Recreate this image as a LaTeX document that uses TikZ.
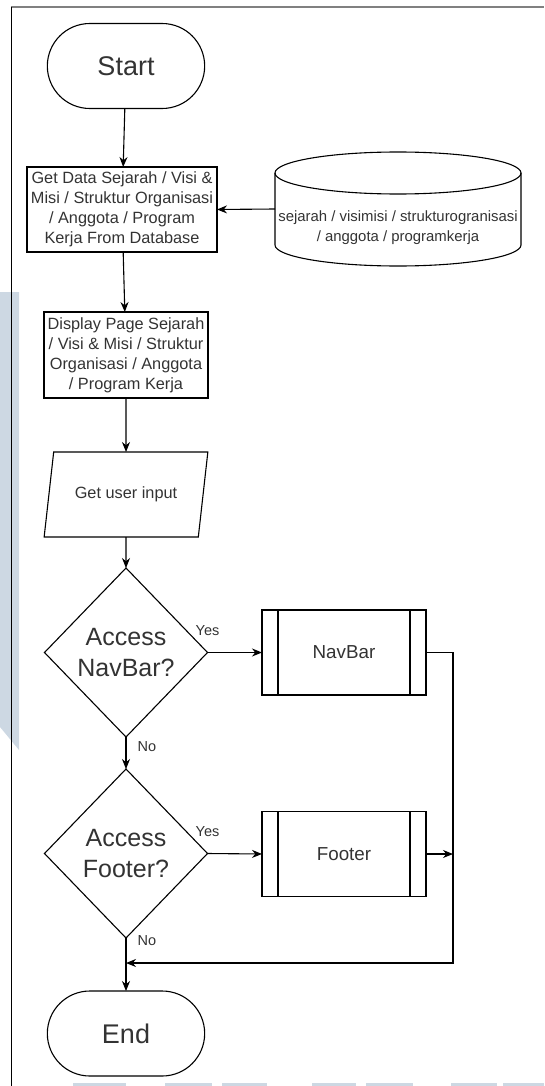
\documentclass[tikz,border=0pt]{standalone}
\usepackage{fontspec}
\setmainfont{Liberation Sans}
\usetikzlibrary{shapes.geometric,shapes.misc,arrows.meta}

\definecolor{inkgray}{HTML}{333333}
\definecolor{markblue}{HTML}{CDD8E3}

\begin{document}
\begin{tikzpicture}[x=1pt, y=1pt, line width=1.1pt,
  every node/.style={outer sep=0pt, text=inkgray},
  flow/.style={-{Stealth[length=10pt, width=8pt]}},
  terminal/.style={draw, rounded rectangle, minimum width=164pt, minimum height=85pt, font=\fontsize{27}{32}\selectfont},
  process/.style={draw, rectangle, inner sep=2pt, align=center, font=\fontsize{16.3}{20}\selectfont},
  inputbox/.style={draw, trapezium, trapezium left angle=71.8, trapezium right angle=108.2, trapezium stretches=true, minimum width=164pt, minimum height=85pt, font=\fontsize{16.3}{20}\selectfont},
  decision/.style={draw, diamond, inner sep=0pt, minimum width=163pt, minimum height=169pt, align=center, font=\fontsize{25}{31}\selectfont},
  subproc/.style={draw, rectangle, minimum width=164pt, minimum height=85pt, font=\fontsize{18.8}{22}\selectfont,
    path picture={\draw ([xshift=16pt]path picture bounding box.north west) -- ([xshift=16pt]path picture bounding box.south west);
                  \draw ([xshift=-16pt]path picture bounding box.north east) -- ([xshift=-16pt]path picture bounding box.south east);}},
  dbshape/.style={rectangle, minimum width=246pt, minimum height=114pt},
  lbl/.style={inner sep=0pt, font=\fontsize{14.5}{17}\selectfont}]

\useasboundingbox (0,0) rectangle (544,-1086);

\fill[markblue] (0,-292) -- (19,-292) -- (19,-750) -- (0,-727) -- cycle;
\foreach \a/\b in {73/126, 165/212, 222/267, 312/356, 366/413, 451/497, 503/544}
  \fill[markblue] (\a,-1083) rectangle (\b,-1086);

\draw[gray, line width=2pt] (11,-7.5) -- (544,-7.5);
\draw[black, line width=0.8pt] (11,-7) -- (11,-1086);

\node[terminal] (start) at (126,-66) {Start};
\node[process, minimum width=190pt, minimum height=85pt] (getdata) at (122,-209.5) {Get Data Sejarah / Visi \&\\Misi / Struktur Organisasi\\/ Anggota / Program\\Kerja From Database};
\node[dbshape] (db) at (398,-209) {};
\node[align=center, font=\fontsize{14.9}{20}\selectfont] (dbname) at (398,-228) {sejarah / visimisi / strukturogranisasi\\/ anggota / programkerja};
\draw (398,-173) ellipse [x radius=123, y radius=21];
\draw (275,-173) -- (275,-245) arc [start angle=180, end angle=360, x radius=123, y radius=21] -- (521,-173);
\node[process, minimum width=164pt, minimum height=86pt] (display) at (126,-355) {Display Page Sejarah\\/ Visi \& Misi / Struktur\\Organisasi / Anggota\\/ Program Kerja};
\node[inputbox] (input) at (126,-494.5) {Get user input};
\node[decision] (navq) at (126,-652.5) {Access\\NavBar?};
\node[subproc] (navbar) at (344,-652.5) {NavBar};
\node[decision] (footq) at (126,-853.5) {Access\\Footer?};
\node[subproc] (footer) at (344,-854) {Footer};
\node[terminal] (end) at (126,-1033.5) {End};

\coordinate (rail) at (453,-963);
\coordinate (merge) at (126,-963);

\draw[flow] (start) -- (getdata);
\draw[flow] (db.west) -- (getdata.east);
\draw[flow] (getdata) -- (display);
\draw[flow] (display) -- (input);
\draw[flow] (input) -- (navq);
\draw[flow] (navq.east) -- (navbar.west) node[lbl, at start, yshift=22pt] {Yes};
\draw[flow] (navq.south) -- (footq.north) node[lbl, at start, xshift=21pt, yshift=-10pt] {No};
\draw[flow] (footq.east) -- (footer.west) node[lbl, at start, yshift=22pt] {Yes};
\draw[flow] (footer.east) -- (footer.east -| rail);
\draw[flow] (navbar.east) -| (rail) -- (merge);
\draw[flow] (footq.south) -- (end.north) node[lbl, at start, xshift=21pt, yshift=-3pt] {No};
\end{tikzpicture}
\end{document}
